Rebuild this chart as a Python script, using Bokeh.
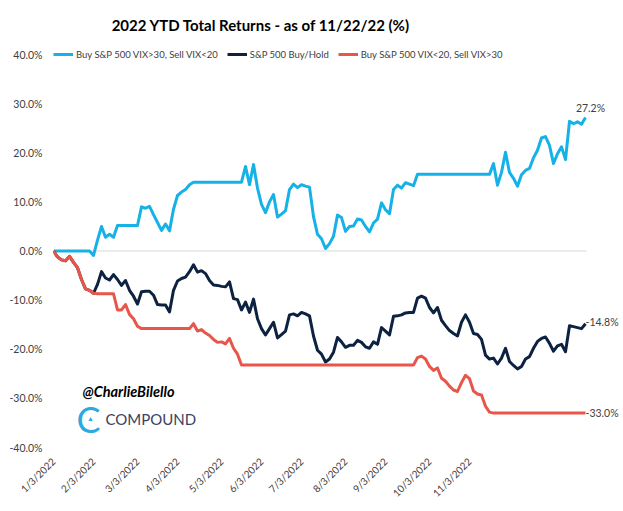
import math
from bokeh.plotting import figure
from bokeh.models import Range1d, FixedTicker, PrintfTickFormatter, Label
from bokeh.embed import file_html
from bokeh.resources import INLINE

title_text = "2022 YTD Total Returns - as of 11/22/22 (%)"
series_names = ["Buy S&P 500 VIX>30, Sell VIX<20", "S&P 500 Buy/Hold", "Buy S&P 500 VIX<20, Sell VIX>30"]
series_colors = ["#16b1e7", "#0d2240", "#e8564a"]
tick_labels = ["1/3/2022", "2/3/2022", "3/3/2022", "4/3/2022", "5/3/2022", "6/3/2022",
               "7/3/2022", "8/3/2022", "9/3/2022", "10/3/2022", "11/3/2022"]
tick_obs = [0, 10, 21, 31, 42, 52, 62, 73, 83, 94, 104]
y_ticks = [-40, -30, -20, -10, 0, 10, 20, 30, 40]

# YTD total return (%), one observation roughly every 1.7 trading days
vix_gt30 = [0, 0, 0, 0, 0, 0, 0, 0, 0, 0,
            -0.9, 2.2, 5.0, 2.8, 3.4, 2.8, 5.2, 5.2, 5.2, 5.2,
            5.2, 5.2, 9.0, 8.7, 9.1, 7.4, 5.8, 4.2, 5.5, 4.1,
            8.5, 11.3, 12.0, 12.5, 13.5, 14.0, 14.0, 14.0, 14.0, 14.0,
            14.0, 14.0, 14.0, 14.0, 14.0, 14.0, 14.0, 14.0, 17.2, 13.5,
            17.6, 12.8, 9.5, 7.8, 10.0, 11.5, 6.9, 7.5, 8.2, 12.5,
            13.6, 12.9, 13.5, 13.2, 13.0, 7.0, 3.4, 2.5, 0.5, 1.5,
            3.0, 7.3, 6.8, 4.0, 5.0, 5.1, 6.5, 6.3, 5.0, 3.9,
            5.7, 6.5, 9.8, 8.4, 7.6, 12.5, 13.4, 12.8, 13.9, 13.6,
            13.3, 15.6, 15.6, 15.6, 15.6, 15.6, 15.6, 15.6, 15.6, 15.6,
            15.6, 15.6, 15.6, 15.6, 15.6, 15.6, 15.6, 15.6, 15.6, 15.6,
            17.8, 13.4, 16.0, 20.1, 16.0, 14.8, 13.2, 15.5, 16.4, 16.8,
            19.0, 20.5, 23.0, 23.3, 21.5, 17.8, 19.8, 21.2, 18.6, 26.4,
            25.9, 26.3, 25.8, 27.2]

buy_hold = [0, -1.2, -1.8, -2.0, -1.1, -2.3, -3.4, -5.8, -7.7, -8.0,
            -8.6, -6.8, -4.2, -5.5, -5.9, -4.8, -5.8, -7.0, -6.0, -8.0,
            -9.2, -10.8, -8.3, -8.2, -8.2, -9.0, -10.9, -11.0, -11.0, -12.4,
            -8.0, -6.1, -5.6, -5.3, -4.2, -2.8, -4.3, -4.0, -4.6, -6.0,
            -6.9, -7.0, -7.2, -7.3, -6.3, -9.7, -9.9, -12.0, -10.4, -12.5,
            -9.8, -13.8, -15.8, -17.1, -15.8, -14.5, -17.7, -17.0, -16.3, -13.0,
            -12.8, -13.2, -12.5, -12.8, -13.2, -17.3, -20.2, -21.0, -22.6, -22.0,
            -20.6, -17.6, -18.5, -19.6, -19.2, -19.2, -18.2, -18.6, -19.5, -19.8,
            -18.5, -19.0, -15.6, -16.3, -17.1, -13.3, -13.2, -13.0, -12.6, -12.5,
            -12.5, -9.6, -9.2, -9.6, -11.5, -12.6, -11.5, -14.1, -15.2, -16.2,
            -16.8, -17.3, -14.5, -13.0, -14.5, -16.8, -17.0, -18.0, -21.2, -22.0,
            -21.8, -23.0, -21.8, -19.8, -22.5, -23.3, -24.0, -23.5, -22.0, -21.5,
            -19.8, -18.4, -17.8, -17.5, -18.8, -20.4, -19.3, -19.0, -20.5, -15.2,
            -15.4, -15.6, -15.8, -14.8]

vix_lt20 = [0, -1.2, -1.8, -2.0, -1.1, -2.3, -3.4, -5.8, -7.7, -8.0,
            -8.6, -8.7, -8.7, -8.7, -8.7, -8.7, -12.0, -12.0, -10.9, -12.9,
            -13.8, -15.3, -15.8, -15.8, -15.8, -15.8, -15.8, -15.8, -15.8, -15.8,
            -15.8, -15.8, -15.8, -15.8, -15.8, -14.8, -16.3, -16.0, -16.7, -17.2,
            -18.0, -18.6, -18.5, -18.9, -17.8, -19.8, -21.0, -23.2, -23.2, -23.2,
            -23.2, -23.2, -23.2, -23.2, -23.2, -23.2, -23.2, -23.2, -23.2, -23.2,
            -23.2, -23.2, -23.2, -23.2, -23.2, -23.2, -23.2, -23.2, -23.2, -23.2,
            -23.2, -23.2, -23.2, -23.2, -23.2, -23.2, -23.2, -23.2, -23.2, -23.2,
            -23.2, -23.2, -23.2, -23.2, -23.2, -23.2, -23.2, -23.2, -23.2, -23.2,
            -23.2, -21.7, -21.4, -22.0, -23.5, -24.3, -23.8, -25.9, -26.5, -27.5,
            -28.3, -28.6, -26.8, -25.3, -26.0, -28.5, -29.1, -29.3, -31.6, -32.8,
            -33.0, -33.0, -33.0, -33.0, -33.0, -33.0, -33.0, -33.0, -33.0, -33.0,
            -33.0, -33.0, -33.0, -33.0, -33.0, -33.0, -33.0, -33.0, -33.0, -33.0,
            -33.0, -33.0, -33.0, -33.0]

series = [vix_gt30, buy_hold, vix_lt20]
n = len(buy_hold)
obs = list(range(n))

FONT = "Lato"
GREY = "#404040"

W, H = 623, 511
LEFT, BOTTOM = 53, 64
# plotting region for the data: 533 px wide, 393 px tall for -40..40;
# the frame is extended to the top/right edges so labels there are not clipped
x_end = (n - 1 + 0.25) * (W - LEFT) / 533.0
y_top = 40 + 54 * 80 / 393.0

p = figure(width=W, height=H, output_backend="svg", toolbar_location=None,
           x_range=Range1d(0, x_end), y_range=Range1d(-40, y_top),
           min_border_left=LEFT, min_border_right=0, min_border_top=0, min_border_bottom=BOTTOM)
p.outline_line_color = None
p.xgrid.visible = False
p.ygrid.visible = False
p.background_fill_color = "white"
p.border_fill_color = "white"

# y axis
p.yaxis.ticker = FixedTicker(ticks=y_ticks)
p.yaxis.formatter = PrintfTickFormatter(format="%.1f%%")
p.yaxis.axis_line_color = None
p.yaxis.major_tick_line_color = None
p.yaxis.minor_tick_line_color = None
p.yaxis.major_tick_out = 0
p.yaxis.major_label_standoff = 11
p.yaxis.major_label_text_font = FONT
p.yaxis.major_label_text_font_size = "10.5px"
p.yaxis.major_label_text_color = GREY

# x axis
p.xaxis.ticker = FixedTicker(ticks=tick_obs)
p.xaxis.major_label_overrides = {t: lbl for t, lbl in zip(tick_obs, tick_labels)}
p.xaxis.major_label_orientation = math.pi / 4
p.xaxis.axis_line_color = None
p.xaxis.major_tick_line_color = None
p.xaxis.minor_tick_line_color = None
p.xaxis.major_tick_out = 0
p.xaxis.major_label_standoff = 12
p.xaxis.major_label_text_font = FONT
p.xaxis.major_label_text_font_size = "10px"
p.xaxis.major_label_text_color = GREY

# zero line across the data span
p.segment(x0=[obs[0]], y0=[0], x1=[obs[-1] + 0.25], y1=[0], line_color="#d9d9d9", line_width=1)

for name, vals, col in zip(series_names, series, series_colors):
    p.line(obs, vals, line_color=col, line_width=3, line_join="round", legend_label=name)

lg = p.legend[0]
lg.orientation = "horizontal"
lg.location = (0, 386)
lg.padding = 0
lg.margin = 0
lg.spacing = 9
lg.glyph_width = 20
lg.glyph_height = 14
lg.label_height = 14
lg.label_standoff = 3
lg.label_text_font = FONT
lg.label_text_font_size = "9.5px"
lg.label_text_color = GREY
lg.border_line_alpha = 0
lg.background_fill_alpha = 0

# end-of-line value labels
p.add_layout(Label(x=obs[-1], y=vix_gt30[-1], text=f"{vix_gt30[-1]:.1f}%", x_offset=5, y_offset=3,
                   text_align="center", text_baseline="bottom", text_font=FONT,
                   text_font_size="10.5px", text_color=GREY))
p.add_layout(Label(x=obs[-1], y=buy_hold[-1], text=f"{buy_hold[-1]:.1f}%", x_offset=0, y_offset=2,
                   text_align="left", text_baseline="middle", text_font=FONT,
                   text_font_size="10.5px", text_color=GREY))
p.add_layout(Label(x=obs[-1], y=vix_lt20[-1], text=f"{vix_lt20[-1]:.1f}%", x_offset=0, y_offset=0,
                   text_align="left", text_baseline="middle", text_font=FONT,
                   text_font_size="10.5px", text_color=GREY))

# title (screen units are measured from the frame's bottom-left corner)
p.add_layout(Label(x=207.5, y=423, x_units="screen", y_units="screen", text=title_text,
                   text_align="center", text_baseline="middle", text_font=FONT,
                   text_font_size="15px", text_font_style="bold", text_color="black"))

# branding
p.add_layout(Label(x=29, y=56, x_units="screen", y_units="screen", text="@CharlieBilello",
                   text_align="left", text_baseline="middle", text_font=FONT,
                   text_font_size="14.5px", text_font_style="bold italic", text_color="black"))
p.add_layout(Label(x=35, y=29, x_units="screen", y_units="screen", text="C",
                   text_align="center", text_baseline="middle", text_font=FONT,
                   text_font_size="36px", text_color="#2aaae1"))
p.add_layout(Label(x=37, y=29, x_units="screen", y_units="screen", text="▲",
                   text_align="center", text_baseline="middle",
                   text_font_size="7px", text_color="#2aaae1"))
p.add_layout(Label(x=52, y=29, x_units="screen", y_units="screen", text="COMPOUND",
                   text_align="left", text_baseline="middle", text_font=FONT,
                   text_font_size="15px", text_color="#3b4262"))

open("out.html", "w").write(file_html(p, INLINE))
